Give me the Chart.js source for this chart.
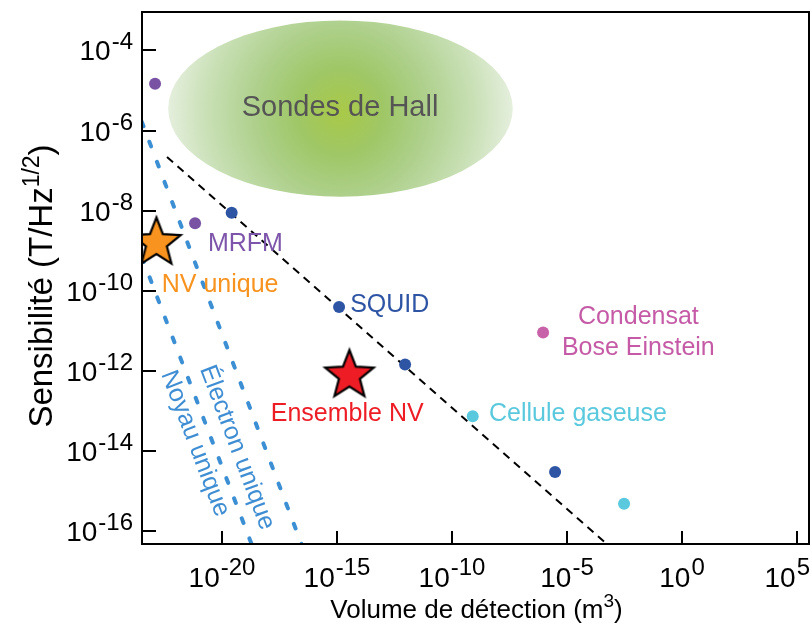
<!DOCTYPE html>
<html><head><meta charset="utf-8">
<script src="https://cdn.jsdelivr.net/npm/chart.js@4.4.0/dist/chart.umd.min.js"></script>
<style>html,body{margin:0;padding:0;background:#fff;}#wrap{width:812px;height:633px;}</style>
</head><body><div id="wrap"><canvas id="c" width="812" height="633"></canvas></div>
<script>
// ---------- data (volume m^3, sensitivity T/Hz^1/2) ----------
const mrfmX = [1.23e-23, 6.76e-22];
const mrfmY = [1.48e-5, 4.9e-9];
const squidX = [2.63e-20, 1.23e-15, 9.12e-13, 3.02e-6];
const squidY = [8.9e-9, 3.98e-11, 1.45e-12, 3.02e-15];
const gasX = [7.94e-10, 3.02e-3];
const gasY = [7.41e-14, 4.9e-16];
const becX = [9.12e-7];
const becY = [9.12e-12];
const nvSingleX = [1.41e-23];
const nvSingleY = [1.58e-9];
const nvEnsX = [3.47e-15];
const nvEnsY = [7.76e-13];
const squidLimitX = [4.07e-23, 6.03e-4];
const squidLimitY = [2.19e-7, 4.57e-17];
const electronX = [3.24e-24, 2.95e-17];
const electronY = [1.68e-6, 4.57e-17];
const nucleusX = [3.31e-24, 2.0e-19];
const nucleusY = [6.92e-10, 4.57e-17];
const hallX = [4.57e-23, 4.37e-8];
const hallY = [2.24e-8, 5.62e-4];
// axis
const xMin = 3.33e-24, xMax = 3.31e5, yMin = 4.84e-17, yMax = 9.12e-4;
const xTickValues = [1e-20, 1e-15, 1e-10, 1e-5, 1, 1e5];
const xTickExps = ['-20', '-15', '-10', '-5', '0', '5'];
const yTickValues = [1e-16, 1e-14, 1e-12, 1e-10, 1e-8, 1e-6, 1e-4];
const yTickExps = ['-16', '-14', '-12', '-10', '-8', '-6', '-4'];
// text labels
const labelTexts = ['Sondes de Hall', 'MRFM', 'NV unique', 'SQUID', 'Condensat', 'Bose Einstein', 'Ensemble NV', 'Cellule gaseuse'];
const labelX = [1.35e-15, 2.45e-21, 2.4e-23, 3.72e-15, 1.26e-2, 1.26e-2, 1.32e-18, 4.07e-9];
const labelY = [3.72e-6, 1.48e-9, 1.38e-10, 4.47e-11, 2.19e-11, 3.72e-12, 8.51e-14, 8.32e-14];
const labelColors = ['#555555', '#7d55aa', '#f7931e', '#2e54a4', '#c55ba6', '#c55ba6', '#ee1c25', '#5bc9dd'];
const labelAlign = ['center', 'left', 'left', 'left', 'center', 'center', 'left', 'left'];
const rotLabelTexts = ['Noyau unique', 'Électron unique'];
const rotLabelX = [6.76e-22, 4.47e-20];
const rotLabelY = [1.55e-14, 1.23e-14];

const FONT = '"Liberation Sans", Arial, Helvetica, sans-serif';
const pts = (xs, ys) => xs.map((x, i) => ({x: x, y: ys[i]}));

function makeStar(fill) {
  const s = 58, c = document.createElement('canvas');
  c.width = s; c.height = s;
  const g = c.getContext('2d');
  const R = 25.5, r = 11, cx = s / 2, cy = s / 2;
  g.beginPath();
  for (let i = 0; i < 10; i++) {
    const rad = i % 2 === 0 ? R : r;
    const a = -Math.PI / 2 + i * Math.PI / 5;
    const px = cx + rad * Math.cos(a), py = cy + rad * Math.sin(a);
    if (i === 0) g.moveTo(px, py); else g.lineTo(px, py);
  }
  g.closePath();
  g.fillStyle = fill; g.fill();
  g.lineWidth = 2.2; g.strokeStyle = '#000'; g.lineJoin = 'miter'; g.stroke();
  return c;
}

function drawPow(ctx, exp, x, baseY, align, mainSize, supSize, supRise) {
  ctx.font = mainSize + 'px ' + FONT;
  const w1 = ctx.measureText('10').width + 1;
  ctx.font = supSize + 'px ' + FONT;
  const w2 = ctx.measureText(exp).width;
  let left;
  const total = w1 + w2;
  if (align === 'right') left = x - total;
  else left = x - total / 2;
  if (left + total > 810) left = 810 - total;
  ctx.textAlign = 'left'; ctx.textBaseline = 'alphabetic'; ctx.fillStyle = '#000';
  ctx.font = mainSize + 'px ' + FONT;
  ctx.fillText('10', left, baseY);
  ctx.font = supSize + 'px ' + FONT;
  ctx.fillText(exp, left + w1, baseY - supRise);
}

const hallPlugin = {
  id: 'hall',
  beforeDatasetsDraw(chart) {
    const ctx = chart.ctx, xs = chart.scales.x, ys = chart.scales.y;
    const x0 = xs.getPixelForValue(hallX[0]), x1 = xs.getPixelForValue(hallX[1]);
    const y0 = ys.getPixelForValue(hallY[1]), y1 = ys.getPixelForValue(hallY[0]);
    const cx = (x0 + x1) / 2, cy = (y0 + y1) / 2, rx = (x1 - x0) / 2, ry = (y1 - y0) / 2;
    ctx.save();
    const g = ctx.createRadialGradient(cx, cy + 3, 0, cx, cy + 3, rx);
    g.addColorStop(0, '#a9c947');
    g.addColorStop(0.25, '#9fc766');
    g.addColorStop(0.5, '#aed08c');
    g.addColorStop(0.78, '#c9e0b6');
    g.addColorStop(1, '#e5efdd');
    ctx.beginPath();
    ctx.ellipse(cx, cy, rx, ry, 0, 0, Math.PI * 2);
    ctx.fillStyle = g; ctx.fill();
    ctx.restore();
  }
};

const decoPlugin = {
  id: 'deco',
  afterDraw(chart) {
    const ctx = chart.ctx, xs = chart.scales.x, ys = chart.scales.y, a = chart.chartArea;
    ctx.save();
    // frame
    ctx.strokeStyle = '#000'; ctx.lineWidth = 2;
    ctx.strokeRect(a.left, a.top, a.right - a.left, a.bottom - a.top);
    // ticks (inside)
    ctx.lineWidth = 2;
    xTickValues.forEach((v, i) => {
      const px = Math.round(xs.getPixelForValue(v));
      ctx.beginPath(); ctx.moveTo(px, a.bottom); ctx.lineTo(px, a.bottom - 13); ctx.stroke();
      drawPow(ctx, xTickExps[i], px, a.bottom + 43, 'center', 28, 24, 12);
    });
    yTickValues.forEach((v, i) => {
      const py = Math.round(ys.getPixelForValue(v));
      ctx.beginPath(); ctx.moveTo(a.left, py); ctx.lineTo(a.left + 14, py); ctx.stroke();
      drawPow(ctx, yTickExps[i], a.left - 9, py + 10, 'right', 28, 24, 11);
    });
    // text labels
    labelTexts.forEach((t, i) => {
      const px = xs.getPixelForValue(labelX[i]), py = ys.getPixelForValue(labelY[i]);
      ctx.font = (i === 0 ? 29 : 25) + 'px ' + FONT;
      ctx.fillStyle = labelColors[i];
      ctx.textAlign = labelAlign[i]; ctx.textBaseline = 'middle';
      ctx.fillText(t, px, py);
    });
    // rotated labels along the dotted lines
    const lines = [[nucleusX, nucleusY], [electronX, electronY]];
    rotLabelTexts.forEach((t, i) => {
      const lx = lines[i][0], ly = lines[i][1];
      const dx = xs.getPixelForValue(lx[1]) - xs.getPixelForValue(lx[0]);
      const dy = ys.getPixelForValue(ly[1]) - ys.getPixelForValue(ly[0]);
      const ang = Math.atan2(dy, dx);
      const px = xs.getPixelForValue(rotLabelX[i]), py = ys.getPixelForValue(rotLabelY[i]);
      ctx.save();
      ctx.translate(px, py); ctx.rotate(ang);
      ctx.font = '25px ' + FONT; ctx.fillStyle = '#3f8ed3';
      ctx.textAlign = 'center'; ctx.textBaseline = 'middle';
      ctx.fillText(t, 0, 0);
      ctx.restore();
    });
    // axis titles
    ctx.fillStyle = '#000';
    ctx.textBaseline = 'alphabetic';
    {
      const main = 'Volume de détection (m', sup = '3', end = ')';
      ctx.font = '26px ' + FONT; const w1 = ctx.measureText(main).width, w3 = ctx.measureText(end).width;
      ctx.font = '19px ' + FONT; const w2 = ctx.measureText(sup).width;
      const cx = (a.left + a.right) / 2 + 1, left = cx - (w1 + w2 + w3) / 2, by = 618;
      ctx.textAlign = 'left';
      ctx.font = '26px ' + FONT; ctx.fillText(main, left, by);
      ctx.font = '19px ' + FONT; ctx.fillText(sup, left + w1, by - 11);
      ctx.font = '26px ' + FONT; ctx.fillText(end, left + w1 + w2, by);
    }
    {
      const main = 'Sensibilité (T/Hz', sup = '1/2', end = ')';
      ctx.save();
      ctx.translate(52, (a.top + a.bottom) / 2 + 8);
      ctx.rotate(-Math.PI / 2);
      ctx.font = '33px ' + FONT; const w1 = ctx.measureText(main).width, w3 = ctx.measureText(end).width;
      ctx.font = '23px ' + FONT; const w2 = ctx.measureText(sup).width;
      const left = -(w1 + w2 + w3) / 2;
      ctx.textAlign = 'left';
      ctx.font = '33px ' + FONT; ctx.fillText(main, left, 0);
      ctx.font = '23px ' + FONT; ctx.fillText(sup, left + w1, -13);
      ctx.font = '33px ' + FONT; ctx.fillText(end, left + w1 + w2, 0);
      ctx.restore();
    }
    ctx.restore();
  }
};

const dotStyle = {borderColor: '#3d8fd4', borderWidth: 4, borderDash: [5, 16.5], borderCapStyle: 'round', pointRadius: 0, showLine: true, fill: false};

new Chart(document.getElementById('c'), {
  type: 'scatter',
  data: {
    datasets: [
      {label: 'NV unique', data: pts(nvSingleX, nvSingleY), pointStyle: makeStar('#f7931e'), pointRadius: 29},
      {label: 'Ensemble NV', data: pts(nvEnsX, nvEnsY), pointStyle: makeStar('#ee1c25'), pointRadius: 29},
      {label: 'MRFM', data: pts(mrfmX, mrfmY), backgroundColor: '#7952a3', borderWidth: 0, pointRadius: 6},
      {label: 'SQUID', data: pts(squidX, squidY), backgroundColor: '#2e54a4', borderWidth: 0, pointRadius: 6},
      {label: 'Cellule gaseuse', data: pts(gasX, gasY), backgroundColor: '#5ac8dd', borderWidth: 0, pointRadius: 6},
      {label: 'Condensat Bose Einstein', data: pts(becX, becY), backgroundColor: '#c862a8', borderWidth: 0, pointRadius: 6},
      {label: 'Limite SQUID', data: pts(squidLimitX, squidLimitY), borderColor: '#000', borderWidth: 2, borderDash: [8, 6], pointRadius: 0, showLine: true, fill: false},
      Object.assign({label: 'Électron unique', data: pts(electronX, electronY)}, dotStyle),
      Object.assign({label: 'Noyau unique', data: pts(nucleusX, nucleusY)}, dotStyle)
    ]
  },
  options: {
    responsive: false,
    animation: false,
    devicePixelRatio: 1,
    layout: {autoPadding: false, padding: {left: 142, top: 12, right: 3, bottom: 89}},
    plugins: {legend: {display: false}, tooltip: {enabled: false}},
    scales: {
      x: {type: 'logarithmic', display: false, min: xMin, max: xMax},
      y: {type: 'logarithmic', display: false, min: yMin, max: yMax}
    }
  },
  plugins: [hallPlugin, decoPlugin]
});
</script></body></html>
